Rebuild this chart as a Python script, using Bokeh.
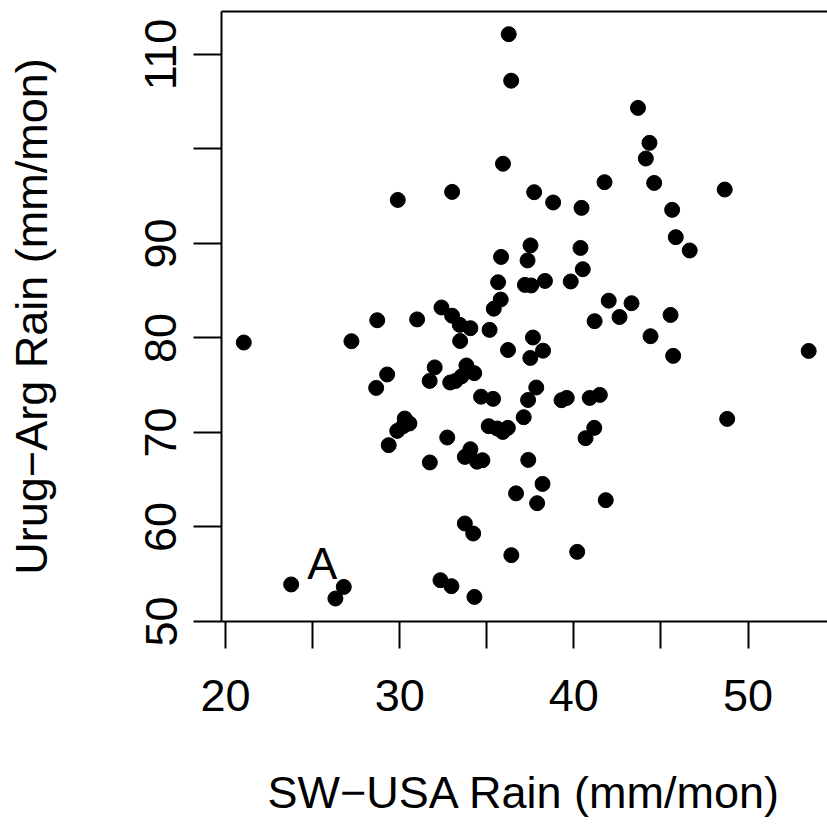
from bokeh.plotting import figure
from bokeh.models import Range1d, FixedTicker, LinearAxis
from bokeh.core.properties import value
from bokeh.embed import file_html
from bokeh.resources import INLINE

# SW-USA rain (x) and Urug-Arg rain (y), mm/mon
sw_usa_rain = [
    36.26, 36.40, 35.93, 33.01, 29.89, 35.82, 35.65, 35.80, 32.40, 35.40,
    43.68, 44.34, 44.13, 41.76, 44.61, 48.66, 37.72, 38.81, 40.44, 45.64,
    45.85, 46.65, 37.51, 40.38, 37.34, 40.51, 37.19, 37.55, 38.34, 39.82,
    42.00, 43.31, 42.62, 41.19, 45.55, 44.40, 37.65, 36.22, 38.23, 37.50,
    45.70, 53.48, 37.84, 37.37, 39.29, 39.59, 40.91, 41.49,
    37.12, 48.80, 41.17, 40.67, 37.38, 38.20, 36.68, 37.89, 41.83, 36.41, 40.19,
    21.05, 27.23, 28.71, 31.00, 33.01, 33.45, 34.06, 33.47, 35.16,
    29.28, 28.65, 32.01, 31.72, 33.83, 34.28, 33.55, 33.20, 32.90,
    34.67, 35.36, 30.29, 30.56, 30.20, 29.86, 29.37, 32.73,
    35.11, 35.60, 35.92, 36.21, 34.06, 33.74, 34.44, 34.75, 31.73,
    33.74, 34.22, 23.77, 26.79, 26.31, 32.34, 32.97, 34.29,
]
urug_arg_rain = [
    112.15, 107.23, 98.44, 95.46, 94.61, 88.58, 85.90, 84.07, 83.23, 83.10,
    104.35, 100.65, 98.99, 96.49, 96.41, 95.71, 95.43, 94.34, 93.77, 93.56,
    90.67, 89.26, 89.80, 89.53, 88.21, 87.28, 85.62, 85.56, 86.04, 85.98,
    83.95, 83.68, 82.22, 81.78, 82.44, 80.19, 80.05, 78.73, 78.66, 77.89,
    78.11, 78.63, 74.76, 73.44, 73.42, 73.66, 73.66, 73.98,
    71.62, 71.44, 70.49, 69.40, 67.10, 64.56, 63.56, 62.52, 62.84, 57.02, 57.37,
    79.52, 79.66, 81.88, 81.97, 82.36, 81.39, 81.04, 79.68, 80.86,
    76.14, 74.72, 76.89, 75.46, 77.09, 76.28, 75.94, 75.45, 75.29,
    73.79, 73.56, 71.48, 70.95, 70.67, 70.17, 68.66, 69.47,
    70.67, 70.42, 70.06, 70.49, 68.23, 67.42, 66.91, 67.07, 66.83,
    60.37, 59.31, 53.92, 53.66, 52.43, 54.37, 53.74, 52.60,
]

# annotation
annot_x = [25.55]
annot_y = [56.1]
annot_text = ["A"]

# ticks
x_labeled_ticks = [20, 30, 40, 50]
x_unlabeled_ticks = [25, 35, 45]
y_labeled_ticks = [50, 60, 70, 80, 90, 110]
y_unlabeled_ticks = [100]

x_title = "SW\u2212USA Rain (mm/mon)"
y_title = "Urug\u2212Arg Rain (mm/mon)"

FONT = "Liberation Sans"
FS = "45px"

p = figure(
    width=827, height=834,
    output_backend="svg", toolbar_location=None,
    x_range=Range1d(19.77, 54.56), y_range=Range1d(50.0, 114.55),
    min_border_left=221, min_border_right=0,
    min_border_top=11, min_border_bottom=213,
    background_fill_color="white", border_fill_color="white",
)
p.outline_line_color = None
p.xgrid.visible = False
p.ygrid.visible = False

p.xaxis.ticker = FixedTicker(ticks=x_labeled_ticks, minor_ticks=x_unlabeled_ticks)
p.yaxis.ticker = FixedTicker(ticks=y_labeled_ticks, minor_ticks=y_unlabeled_ticks)

for ax in (p.xaxis[0], p.yaxis[0]):
    ax.axis_line_width = 2
    ax.axis_line_color = "black"
    ax.major_tick_line_width = 2
    ax.minor_tick_line_width = 2
    ax.major_tick_line_color = "black"
    ax.minor_tick_line_color = "black"
    ax.major_tick_in = 0
    ax.minor_tick_in = 0
    ax.major_label_text_font = FONT
    ax.major_label_text_font_size = FS
    ax.major_label_text_color = "black"
    ax.axis_label_text_font = FONT
    ax.axis_label_text_font_size = FS
    ax.axis_label_text_font_style = "normal"
    ax.axis_label_text_color = "black"

p.xaxis.major_tick_out = 27
p.xaxis.minor_tick_out = 27
p.xaxis.major_label_standoff = 31
p.xaxis.axis_label = x_title
p.xaxis.axis_label_standoff = 53

p.yaxis.major_tick_out = 28
p.yaxis.minor_tick_out = 28
p.yaxis.major_label_orientation = "vertical"
p.yaxis.major_label_standoff = 17
p.yaxis.axis_label = y_title
p.yaxis.axis_label_standoff = 86

top_axis = LinearAxis(
    ticker=FixedTicker(ticks=[]),
    axis_line_width=2, axis_line_color="black",
    major_tick_out=0, major_tick_in=0, minor_tick_out=0, minor_tick_in=0,
    major_label_text_font_size="0px",
)
p.add_layout(top_axis, "above")

p.scatter(sw_usa_rain, urug_arg_rain, size=15, marker="circle",
          fill_color="black", line_color="black")

p.text(x=annot_x, y=annot_y, text=annot_text,
       text_font=value(FONT), text_font_size=FS, text_color="black",
       text_align="center", text_baseline="middle")

open("out.html", "w").write(file_html(p, INLINE))
